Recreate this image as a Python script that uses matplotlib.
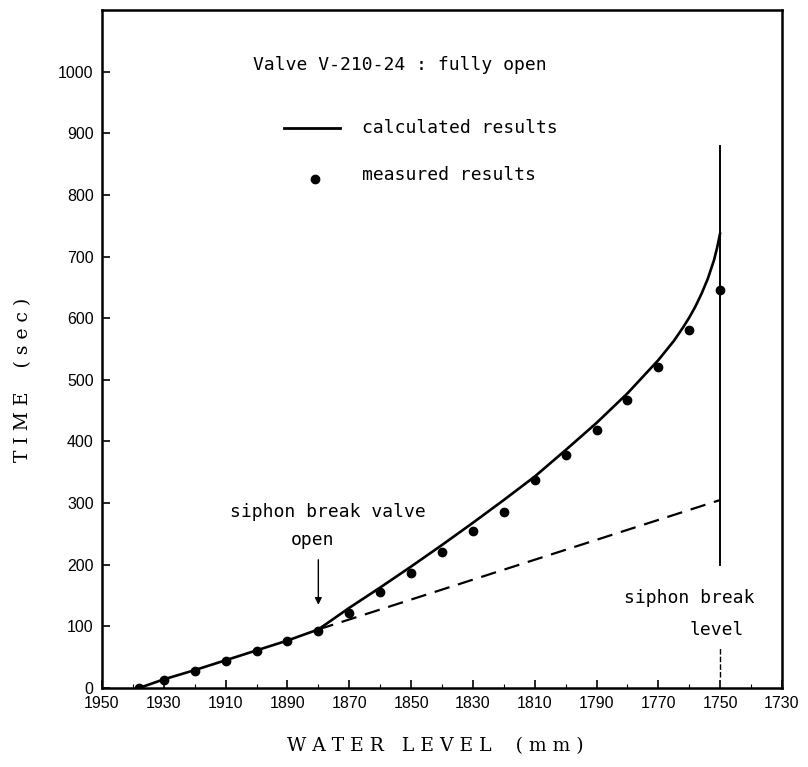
import matplotlib
matplotlib.use("Agg")
import matplotlib.pyplot as plt

# ---- data ----
calc_level = [1938, 1930, 1920, 1910, 1900, 1890, 1880, 1870, 1860, 1850, 1840,
              1830, 1820, 1810, 1800, 1790, 1780, 1770, 1765, 1762, 1760, 1758,
              1756, 1754, 1752, 1751, 1750]
calc_time = [0, 14, 29, 45, 61, 77, 95, 130, 163, 197, 232,
             268, 305, 343, 386, 430, 478, 532, 563, 585, 601, 619,
             640, 664, 694, 714, 738]

ext_level = [1880, 1750]
ext_time = [95, 305]

meas_level = [1938, 1930, 1920, 1910, 1900, 1890, 1880, 1870, 1860, 1850, 1840,
              1830, 1820, 1810, 1800, 1790, 1780, 1770, 1760, 1750]
meas_time = [0, 13, 28, 44, 60, 76, 93, 121, 156, 187, 221,
             254, 285, 338, 378, 419, 467, 521, 580, 646]

x_ticks = [1950, 1930, 1910, 1890, 1870, 1850, 1830, 1810, 1790, 1770, 1750, 1730]
y_ticks = [0, 100, 200, 300, 400, 500, 600, 700, 800, 900, 1000]

siphon_level = 1750
valve_open_level = 1880

tick_font = "Liberation Sans"
txt_font = "DejaVu Sans Mono"
lab_font = "DejaVu Serif"

fig = plt.figure(figsize=(8.08, 7.67), dpi=100)
ax = fig.add_axes([0.1262, 0.103, 0.8416, 0.884])

ax.plot(calc_level, calc_time, color="black", lw=1.9, solid_capstyle="round",
        solid_joinstyle="round")
ax.plot(ext_level, ext_time, color="black", lw=1.6, dashes=(7, 4))
ax.plot(meas_level, meas_time, "o", color="black", ms=6)

# siphon break level vertical line
ax.plot([siphon_level, siphon_level], [200, 880], color="black", lw=1.4)
ax.plot([siphon_level, siphon_level], [18, 65], color="black", lw=1.0, dashes=(4, 1.5))

ax.set_xlim(1950, 1730)
ax.set_ylim(0, 1100)
ax.set_xticks(x_ticks)
ax.set_yticks(y_ticks)
ax.set_xticks(list(range(1940, 1730, -20)), minor=True)
ax.tick_params(axis="both", which="major", direction="in", length=6, width=1.2,
               labelsize=11.5, top=False, right=False, pad=6)
ax.tick_params(axis="x", which="minor", direction="in", length=3, width=0.8)
for lab in ax.get_xticklabels() + ax.get_yticklabels():
    lab.set_fontfamily(tick_font)

for s in ax.spines.values():
    s.set_linewidth(1.8)

ax.set_xlabel("W A T E R   L E V E L    ( m m )", fontsize=13.5, family=lab_font)
ax.xaxis.set_label_coords(0.49, -0.072)
ax.set_ylabel("T I M E    ( s e c )", fontsize=13.5, family=lab_font)
ax.yaxis.set_label_coords(-0.103, 0.455)

ax.text(1901, 1010, "Valve V-210-24 : fully open", fontsize=13,
        family=txt_font, ha="left", va="center")
ax.plot([1891, 1873], [908, 908], color="black", lw=2.0)
ax.text(1866, 908, "calculated results", fontsize=13, family=txt_font,
        ha="left", va="center")
ax.plot([1881], [826], "o", color="black", ms=6)
ax.text(1866, 833, "measured results", fontsize=13, family=txt_font,
        ha="left", va="center")

ax.text(1877, 285, "siphon break valve", fontsize=13, family=txt_font,
        ha="center", va="center")
ax.text(1882, 240, "open", fontsize=13, family=txt_font, ha="center", va="center")
ax.annotate("", xy=(valve_open_level, 135), xytext=(valve_open_level, 208),
            arrowprops=dict(arrowstyle="-|>", color="black", lw=1.0,
                            shrinkA=0, shrinkB=0, mutation_scale=10))

ax.text(1760, 146, "siphon break", fontsize=13, family=txt_font,
        ha="center", va="center")
ax.text(1751, 94, "level", fontsize=13, family=txt_font, ha="center", va="center")

fig.savefig("out.png", dpi=100)
